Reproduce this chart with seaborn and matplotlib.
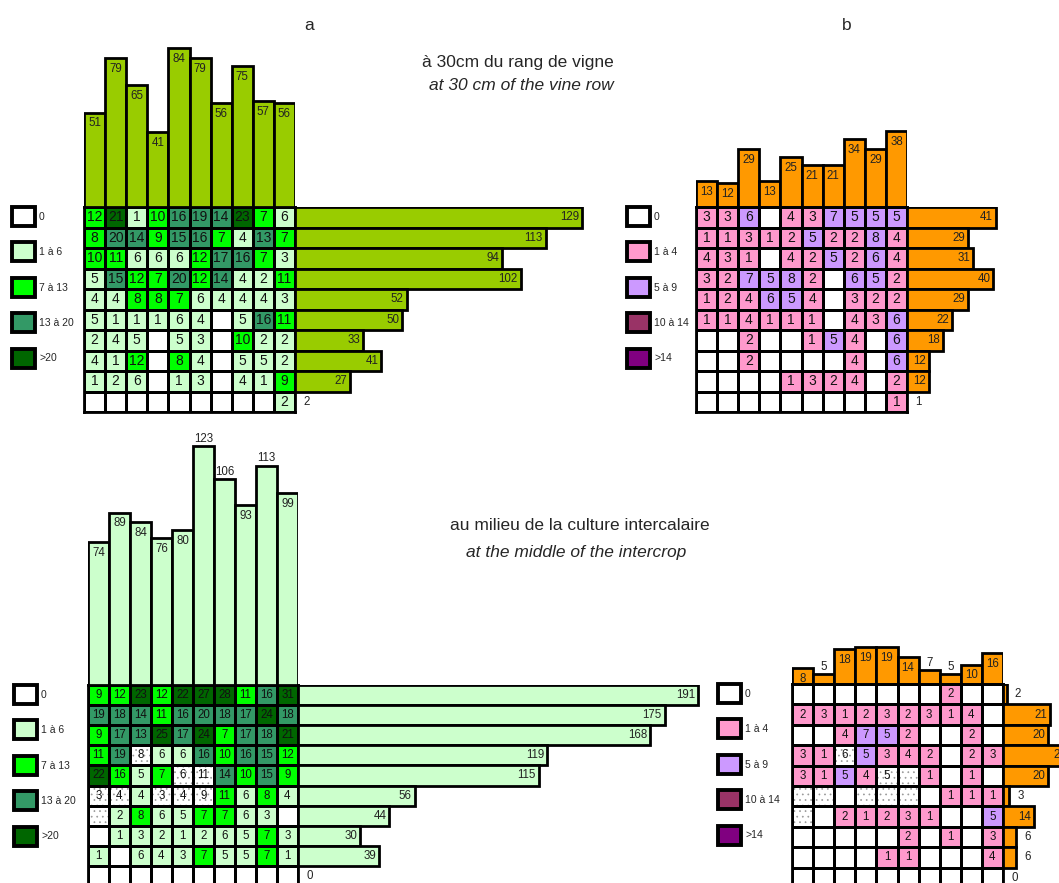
import numpy as np
import matplotlib
matplotlib.use('Agg')
import matplotlib.pyplot as plt
from matplotlib.colors import ListedColormap
from matplotlib.patches import Patch, Rectangle
import seaborn as sns

# ---------------- data ----------------
# a : green scale, b : pink scale ; rows x columns counts
a_vine = np.array([
    [12, 21, 1, 10, 16, 19, 14, 23, 7, 6],
    [8, 20, 14, 9, 15, 16, 7, 4, 13, 7],
    [10, 11, 6, 6, 6, 12, 17, 16, 7, 3],
    [5, 15, 12, 7, 20, 12, 14, 4, 2, 11],
    [4, 4, 8, 8, 7, 6, 4, 4, 4, 3],
    [5, 1, 1, 1, 6, 4, 0, 5, 16, 11],
    [2, 4, 5, 0, 5, 3, 0, 10, 2, 2],
    [4, 1, 12, 0, 8, 4, 0, 5, 5, 2],
    [1, 2, 6, 0, 1, 3, 0, 4, 1, 9],
    [0, 0, 0, 0, 0, 0, 0, 0, 0, 2],
])
a_vine_top = [51, 79, 65, 41, 84, 79, 56, 75, 57, 56]
a_vine_side = [129, 113, 94, 102, 52, 50, 33, 41, 27, 2]

b_vine = np.array([
    [3, 3, 6, 0, 4, 3, 7, 5, 5, 5],
    [1, 1, 3, 1, 2, 5, 2, 2, 8, 4],
    [4, 3, 1, 0, 4, 2, 5, 2, 6, 4],
    [3, 2, 7, 5, 8, 2, 0, 6, 5, 2],
    [1, 2, 4, 6, 5, 4, 0, 3, 2, 2],
    [1, 1, 4, 1, 1, 1, 0, 4, 3, 6],
    [0, 0, 2, 0, 0, 1, 5, 4, 0, 6],
    [0, 0, 2, 0, 0, 0, 0, 4, 0, 6],
    [0, 0, 0, 0, 1, 3, 2, 4, 0, 2],
    [0, 0, 0, 0, 0, 0, 0, 0, 0, 1],
])
b_vine_top = [13, 12, 29, 13, 25, 21, 21, 34, 29, 38]
b_vine_side = [41, 29, 31, 40, 29, 22, 18, 12, 12, 1]

a_mid = np.array([
    [9, 12, 23, 12, 22, 27, 28, 11, 16, 31],
    [19, 18, 14, 11, 16, 20, 18, 17, 24, 18],
    [9, 17, 13, 25, 17, 24, 7, 17, 18, 21],
    [11, 19, 8, 6, 6, 16, 10, 16, 15, 12],
    [22, 16, 5, 7, 6, 11, 14, 10, 15, 9],
    [3, 4, 4, 3, 4, 9, 11, 6, 8, 4],
    [0, 2, 8, 6, 5, 7, 7, 6, 3, 0],
    [0, 1, 3, 2, 1, 2, 6, 5, 7, 3],
    [1, 0, 6, 4, 3, 7, 5, 5, 7, 1],
    [0, 0, 0, 0, 0, 0, 0, 0, 0, 0],
])
a_mid_top = [74, 89, 84, 76, 80, 123, 106, 93, 113, 99]
a_mid_side = [191, 175, 168, 119, 115, 56, 44, 30, 39, 0]

b_mid = np.array([
    [0, 0, 0, 0, 0, 0, 0, 2, 0, 0],
    [2, 3, 1, 2, 3, 2, 3, 1, 4, 0],
    [0, 0, 4, 7, 5, 2, 0, 0, 2, 0],
    [3, 1, 6, 5, 3, 4, 2, 0, 2, 3],
    [3, 1, 5, 4, 5, 0, 1, 0, 1, 0],
    [0, 0, 0, 0, 0, 0, 0, 1, 1, 1],
    [0, 0, 2, 1, 2, 3, 1, 0, 0, 5],
    [0, 0, 0, 0, 0, 2, 0, 1, 0, 3],
    [0, 0, 0, 0, 1, 1, 0, 0, 0, 4],
    [0, 0, 0, 0, 0, 0, 0, 0, 0, 0],
])
b_mid_top = [8, 5, 18, 19, 19, 14, 7, 5, 10, 16]
b_mid_side = [2, 21, 20, 29, 20, 3, 14, 6, 6, 0]

# stippled (not sampled) cells in the intercrop grids
mid_dotted = [(3, 2), (4, 4), (4, 5), (5, 0), (5, 1), (5, 3), (5, 4), (5, 5), (6, 0)]
a_mid_override = [(4, 1, 2)]   # cell drawn in the 7-13 colour

green_bins = [1, 7, 13, 21]
pink_bins = [1, 5, 10, 15]
green_labels = ['0', '1 à 6', '7 à 13', '13 à 20', '>20']
pink_labels = ['0', '1 à 4', '5 à 9', '10 à 14', '>14']
green_pal = ['white', '#CCFFCC', '#00FF00', '#339966', '#006600']
pink_pal = ['white', '#FF99CC', '#CC99FF', '#993366', '#800080']

# ---------------- figure ----------------
sns.set_style('white')
plt.rcParams['font.family'] = ['Liberation Sans', 'DejaVu Sans']
plt.rcParams['hatch.linewidth'] = 0.5
plt.rcParams['hatch.color'] = '#888888'

W, H = 1059, 883
fig = plt.figure(figsize=(W / 100, H / 100), dpi=100)


def box(l, t, r, b):
    return fig.add_axes([l / W, 1 - b / H, (r - l) / W, (b - t) / H])


def panel(grid, top_vals, side_vals, bins, pal, bar_color, legend_labels,
          g, top, side, leg, cell_fs, dotted=(), override=()):
    l, t, r, b = g
    base, tsc = top
    x0, ssc = side
    lab_fs = 8.3

    # column totals (bars above the grid)
    axt = box(l, 0, r, base)
    sns.barplot(x=list(range(10)), y=top_vals, ax=axt, color=bar_color,
                width=1.0, edgecolor='black', linewidth=2, saturation=1)
    axt.set_xlim(-0.5, 9.5)
    axt.set_ylim(0, base / tsc)
    axt.axis('off')
    for j, v in enumerate(top_vals):
        vis = v * tsc - (base - t)
        if len(str(v)) >= 3 or vis < 15:
            axt.annotate(str(v), (j, v), xytext=(0, 1), textcoords='offset points',
                         ha='center', va='bottom', fontsize=lab_fs, color='#222222')
        else:
            axt.annotate(str(v), (j, v), xytext=(0, -3.5), textcoords='offset points',
                         ha='center', va='top', fontsize=lab_fs, color='#222222')

    # row totals (bars to the right of the grid)
    axs = box(x0, t, W, b)
    sns.barplot(x=side_vals, y=list(range(10)), orient='h', ax=axs, color=bar_color,
                width=1.0, edgecolor='black', linewidth=2, saturation=1)
    axs.set_ylim(9.5, -0.5)
    axs.set_xlim(0, (W - x0) / ssc)
    axs.axis('off')
    edge = (r - x0) / ssc
    for i, v in enumerate(side_vals):
        vis = x0 + v * ssc - max(r, x0)
        if vis >= len(str(v)) * 6 + 8:
            axs.annotate(str(v), (v, i), xytext=(-2, 0), textcoords='offset points',
                         ha='right', va='center', fontsize=lab_fs, color='#222222',
                         annotation_clip=False)
        else:
            axs.annotate(str(v), (max(v, edge), i), xytext=(6, 0), textcoords='offset points',
                         ha='left', va='center', fontsize=lab_fs, color='#222222',
                         annotation_clip=False)

    # the grid itself
    cat = np.digitize(grid, bins)
    for i, j, c in override:
        cat[i, j] = c
    for i, j in dotted:
        cat[i, j] = 5
    annot = np.where(grid > 0, grid.astype(str), '')
    cmap = ListedColormap(pal + [(1, 1, 1, 0)])
    axg = box(l, t, r, b)
    axg.set_zorder(3)
    sns.heatmap(cat, ax=axg, cmap=cmap, vmin=-0.5, vmax=5.5, cbar=False,
                annot=annot, fmt='', annot_kws=dict(color='#111111', fontsize=cell_fs),
                linewidths=2, linecolor='black', xticklabels=False, yticklabels=False)
    for i, j in dotted:
        axg.add_patch(Rectangle((j, i), 1, 1, facecolor='white', edgecolor='#999999',
                                hatch='...', linewidth=0, zorder=0.5))
    for sp in axg.spines.values():
        sp.set_visible(True)
        sp.set_linewidth(2)
        sp.set_color('black')

    # colour key
    handles = [Patch(facecolor=c, edgecolor='black', linewidth=2.8) for c in pal]
    fig.legend(handles=handles, labels=legend_labels, loc='upper left',
               bbox_to_anchor=(leg[0] / W, 1 - leg[1] / H), frameon=False, fontsize=7.5,
               handlelength=2.2, handleheight=2.4, labelspacing=1.6,
               handletextpad=0.4, borderpad=0, borderaxespad=0)


panel(a_vine, a_vine_top, a_vine_side, green_bins, green_pal, '#99CC00', green_labels,
      g=(84, 207, 295, 412), top=(212, 1.95), side=(288, 2.28), leg=(12, 207), cell_fs=10)
panel(b_vine, b_vine_top, b_vine_side, pink_bins, pink_pal, '#FF9900', pink_labels,
      g=(696, 207, 907, 412), top=(207, 2.0), side=(901, 2.31), leg=(627, 207), cell_fs=10)
panel(a_mid, a_mid_top, a_mid_side, green_bins, green_pal, '#CCFFCC', green_labels,
      g=(88, 685, 298, 886), top=(687, 1.96), side=(297, 2.1), leg=(14, 685), cell_fs=8.3,
      dotted=mid_dotted, override=a_mid_override)
panel(b_mid, b_mid_top, b_mid_side, pink_bins, pink_pal, '#FF9900', pink_labels,
      g=(792, 684, 1003, 888), top=(684, 1.95), side=(1002, 2.3), leg=(718, 684), cell_fs=8.3,
      dotted=mid_dotted)

# panel letters and headings
fig.text(309 / W, 1 - 25 / H, 'a', ha='center', va='center', fontsize=12.5)
fig.text(847 / W, 1 - 25 / H, 'b', ha='center', va='center', fontsize=12.5)
fig.text(518 / W, 1 - 62 / H, 'à 30cm du rang de vigne', ha='center', va='center', fontsize=12.5)
fig.text(521 / W, 1 - 86 / H, 'at 30 cm of the vine row', ha='center', va='center',
         fontsize=12.5, style='italic')
fig.text(580 / W, 1 - 526 / H, 'au milieu de la culture intercalaire', ha='center',
         va='center', fontsize=12.5)
fig.text(576 / W, 1 - 552 / H, 'at the middle of the intercrop', ha='center', va='center',
         fontsize=12.5, style='italic')

fig.savefig('out.png', dpi=100)
